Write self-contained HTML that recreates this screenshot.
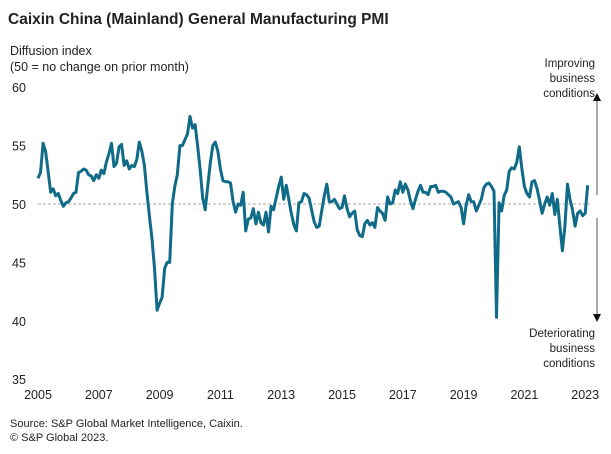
<!DOCTYPE html>
<html><head><meta charset="utf-8"><style>
body{margin:0;background:#fff;}
svg text{font-family:"Liberation Sans",Arial,sans-serif;fill:#222;}
</style></head><body>
<svg width="611" height="449" viewBox="0 0 611 449">
<text x="8" y="24" font-size="15.5" font-weight="bold">Caixin China (Mainland) General Manufacturing PMI</text>
<text x="10" y="55" font-size="12.5">Diffusion index</text>
<text x="10" y="71" font-size="12.5">(50 = no change on prior month)</text>
<g id="yticks"></g>
<g id="xticks"></g>
<line id="ref50" stroke="#aaa" stroke-width="1" stroke-dasharray="3,2"/>
<path id="series" fill="none" stroke="#0f6b87" stroke-width="3" stroke-linejoin="round"/>
<g>
<text x="595" y="67" font-size="11.5" text-anchor="end">Improving</text>
<text x="595" y="82" font-size="11.5" text-anchor="end">business</text>
<text x="595" y="97" font-size="11.5" text-anchor="end">conditions</text>
<line x1="597" y1="100" x2="597" y2="195" stroke="#555" stroke-width="1"/>
<polygon points="593,101 601,101 597,93" fill="#111"/>
</g>
<g>
<line x1="597" y1="218" x2="597" y2="315" stroke="#555" stroke-width="1"/>
<polygon points="593,314 601,314 597,322" fill="#111"/>
<text x="595" y="337" font-size="11.5" text-anchor="end">Deteriorating</text>
<text x="595" y="352" font-size="11.5" text-anchor="end">business</text>
<text x="595" y="367" font-size="11.5" text-anchor="end">conditions</text>
</g>
<text x="10" y="427" font-size="11">Source: S&amp;P Global Market Intelligence, Caixin.</text>
<text x="10" y="441" font-size="11">© S&amp;P Global 2023.</text>
</svg>
<script>
const yTicks=[60,55,50,45,40,35];
const xTickLabels=[2005,2007,2009,2011,2013,2015,2017,2019,2021,2023];
const startYear=2005;
const pmi=[
52.2,52.7,55.2,54.5,52.8,51.0,51.3,50.7,50.9,50.3,49.8,50.1,
50.2,50.5,50.9,51.0,52.7,52.8,53.0,52.9,52.5,52.4,52.0,52.5,
52.2,52.9,52.6,53.6,54.3,55.2,53.2,53.5,54.9,55.1,53.3,53.7,
53.0,53.3,53.2,53.8,55.3,54.5,53.3,51.0,48.9,47.0,44.5,40.9,
41.5,42.0,44.5,45.0,45.0,50.0,51.5,52.5,55.0,55.0,55.5,56.0,
57.5,56.5,56.8,55.0,53.0,50.5,49.5,51.5,53.5,55.0,55.3,54.5,
53.0,52.0,51.9,51.9,51.8,50.2,49.3,50.0,49.9,51.0,47.7,48.7,
48.8,49.6,48.3,49.3,48.4,48.2,49.3,47.6,49.8,49.5,50.5,51.5,
52.3,50.4,51.6,50.4,49.2,48.2,47.7,50.1,50.2,50.9,50.8,50.5,
49.5,48.5,48.0,48.1,49.4,50.7,51.7,50.2,50.2,50.4,50.0,49.6,
49.7,50.7,49.6,48.9,49.2,49.4,47.8,47.3,47.2,48.3,48.6,48.2,
48.4,48.0,49.7,49.4,49.2,48.6,50.6,50.0,50.1,51.2,50.9,51.9,
51.0,51.7,51.2,50.3,49.6,50.4,51.1,51.6,51.0,51.0,50.8,51.5,
51.5,51.6,51.0,51.1,51.1,51.0,50.8,50.6,50.0,50.1,50.2,49.7,
48.3,49.9,50.8,50.2,50.2,49.4,49.9,50.4,51.4,51.7,51.8,51.5,
51.1,40.3,50.1,49.4,50.7,51.2,52.8,53.1,53.0,53.6,54.9,53.0,
51.5,50.9,50.6,51.9,52.0,51.3,50.3,49.2,50.0,50.6,49.9,50.9,
49.1,50.4,48.1,46.0,48.1,51.7,50.4,49.5,48.1,49.2,49.4,49.0,
49.2,51.6];
const NS='http://www.w3.org/2000/svg';
function xs(i){return 38+i*30.4/12;}
function ys(v){return 204-(v-50)*11.68;}
const yg=document.getElementById('yticks');
yTicks.forEach(v=>{
 const t=document.createElementNS(NS,'text');
 t.setAttribute('x',12);t.setAttribute('y',ys(v)+5);t.setAttribute('font-size','12.5');
 
 
 t.textContent=v;yg.appendChild(t);
});
const xg=document.getElementById('xticks');
xTickLabels.forEach(y=>{
 const t=document.createElementNS(NS,'text');
 t.setAttribute('x',xs((y-startYear)*12));t.setAttribute('y',399);t.setAttribute('font-size','12.5');
 t.setAttribute('text-anchor','middle');
 
 
 t.textContent=y;xg.appendChild(t);
});
const r=document.getElementById('ref50');
r.setAttribute('x1',38);r.setAttribute('x2',590);r.setAttribute('y1',ys(50));r.setAttribute('y2',ys(50));
document.getElementById('series').setAttribute('d',pmi.map((v,i)=>(i?'L':'M')+xs(i).toFixed(1)+','+ys(v).toFixed(1)).join(''));
</script>
</body></html>
